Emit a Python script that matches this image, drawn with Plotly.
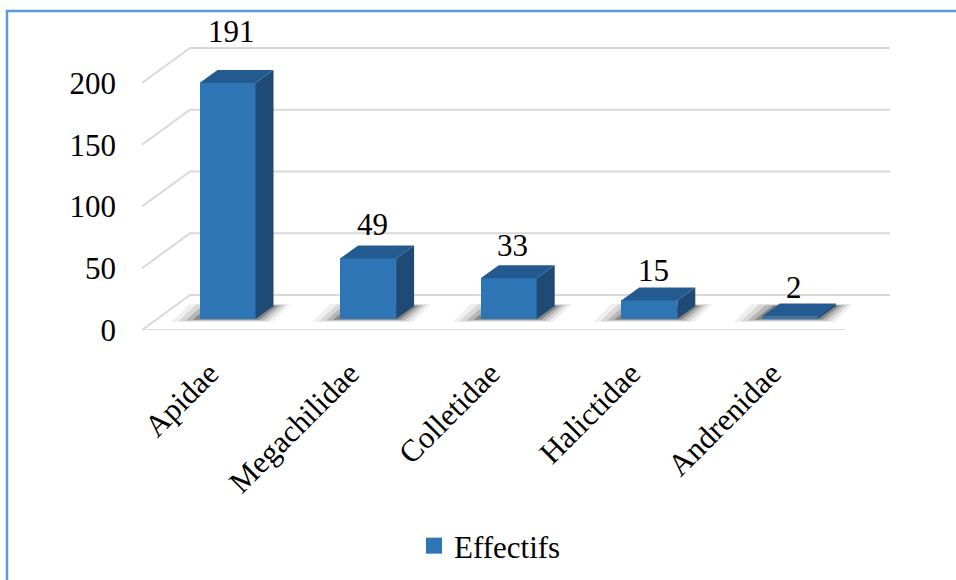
import plotly.graph_objects as go

# ---------------- data ----------------
categories = ["Apidae", "Megachilidae", "Colletidae", "Halictidae", "Andrenidae"]
values = [191, 49, 33, 15, 2]
y_ticks = [0, 50, 100, 150, 200]
series_name = "Effectifs"

# ---------------- styling / geometry ----------------
W, H = 956, 580
FONT = "Liberation Serif"
FONT_SIZE = 31
FRONT = "#2E75B6"
TOP = "#235B90"
SIDE = "#1F4A75"
GRID = "#D9D9D9"
BORDER = "#5B9BD5"

L, R, T, B = 142, 66, 40, 250
plot_w = W - L - R
plot_h = H - T - B
px_cat = 140.6          # pixels per category
px_unit = 1.235         # pixels per value unit
first_center_px = 227.5
zero_px = 319           # pixel row of bar front baseline

x0 = -(first_center_px - L) / px_cat
x1 = x0 + plot_w / px_cat
y0 = -((H - B) - zero_px) / px_unit
y1 = y0 + plot_h / px_unit

bar_w = 56 / px_cat
bar_dx = 18 / px_cat
bar_dy = 13 / px_unit
wall_dx = 48 / px_cat
wall_dy = 35 / px_unit
floor_right = x0 + (845 - L) / px_cat


def px2paper_x(px):
    return (px - L) / plot_w


def py2paper_y(py):
    return ((H - B) - py) / plot_h


xs = list(range(len(categories)))

fig = go.Figure()

# front faces
fig.add_trace(go.Bar(
    x=xs, y=values, width=bar_w, name=series_name,
    marker=dict(color=FRONT, line=dict(width=0)),
    showlegend=False,
))

# top faces and side faces
top_x, top_y, side_x, side_y = [], [], [], []
for i, v in zip(xs, values):
    l_, r_ = i - bar_w / 2, i + bar_w / 2
    top_x += [l_, r_, r_ + bar_dx, l_ + bar_dx, l_, None]
    top_y += [v, v, v + bar_dy, v + bar_dy, v, None]
    side_x += [r_, r_, r_ + bar_dx, r_ + bar_dx, r_, None]
    side_y += [0, v, v + bar_dy, bar_dy, 0, None]

fig.add_trace(go.Scatter(x=side_x, y=side_y, mode="lines", fill="toself",
                         fillcolor=SIDE, line=dict(width=0, color=SIDE),
                         showlegend=False, hoverinfo="skip"))
fig.add_trace(go.Scatter(x=top_x, y=top_y, mode="lines", fill="toself",
                         fillcolor=TOP, line=dict(width=0, color=TOP),
                         showlegend=False, hoverinfo="skip"))

# legend entry (square swatch like the reference)
fig.add_trace(go.Scatter(x=[None], y=[None], mode="markers", name=series_name,
                         marker=dict(symbol="square", size=16, color=FRONT),
                         showlegend=True, hoverinfo="skip"))

shapes = []
# back wall gridlines with left diagonal
for v in y_ticks:
    path = (f"M {x0},{y0 + v} L {x0 + wall_dx},{y0 + wall_dy + v} "
            f"L {x1},{y0 + wall_dy + v}")
    shapes.append(dict(type="path", path=path, xref="x", yref="y",
                       line=dict(color=GRID, width=2), layer="below"))
# floor front edge
shapes.append(dict(type="line", x0=x0, y0=y0, x1=floor_right, y1=y0,
                   xref="x", yref="y", line=dict(color=GRID, width=2),
                   layer="below"))

# soft shadows under bars
for i in xs:
    for e, op in [(0.2, 0.07), (0.15, 0.11), (0.1, 0.18), (0.05, 0.3)]:
        ey = e * px_cat / px_unit * 0.35
        l_ = i - bar_w / 2 - e
        r_ = i + bar_w / 2 + e * 0.6
        path = (f"M {l_},{-ey * 0.3} L {r_},{-ey * 0.3} "
                f"L {r_ + bar_dx},{bar_dy + ey * 0.2} L {l_ + bar_dx},{bar_dy + ey * 0.2} Z")
        shapes.append(dict(type="path", path=path, xref="x", yref="y",
                           fillcolor=f"rgba(30,30,30,{op})",
                           line=dict(width=0), layer="below"))

# outer border
shapes.append(dict(type="rect", xref="paper", yref="paper",
                   x0=px2paper_x(7), x1=px2paper_x(W + 10),
                   y0=py2paper_y(H + 10), y1=py2paper_y(11),
                   line=dict(color=BORDER, width=2.5)))

annotations = []
for i, v in zip(xs, values):
    gap = 4 + 0.12 * v
    annotations.append(dict(
        x=i + 0.03, y=v + bar_dy, xref="x", yref="y", text=str(v),
        showarrow=False, yanchor="bottom", yshift=gap - 8,
        font=dict(family=FONT, size=FONT_SIZE, color="black")))

fig.update_layout(
    width=W, height=H,
    margin=dict(l=L, r=R, t=T, b=B, autoexpand=False),
    paper_bgcolor="white", plot_bgcolor="white",
    font=dict(family=FONT, size=FONT_SIZE, color="black"),
    shapes=shapes, annotations=annotations,
    showlegend=True,
    legend=dict(orientation="h", x=px2paper_x(490), xanchor="center",
                y=py2paper_y(546), yanchor="middle",
                font=dict(family=FONT, size=FONT_SIZE, color="black"),
                bgcolor="rgba(0,0,0,0)", itemwidth=30),
    xaxis=dict(range=[x0, x1], tickvals=xs, ticktext=categories,
               tickangle=-45, showgrid=False, zeroline=False,
               showline=False, ticks="", fixedrange=True,
               tickfont=dict(family=FONT, size=FONT_SIZE),
               ticklabelstandoff=18, ticklabelshift=-18),
    yaxis=dict(range=[y0, y1], tickvals=[v + y0 for v in y_ticks],
               ticktext=[str(v) for v in y_ticks], showgrid=False,
               zeroline=False, showline=False, ticks="", fixedrange=True,
               tickfont=dict(family=FONT, size=FONT_SIZE),
               ticklabelstandoff=25),
    bargap=0,
)

fig.write_html("out.html")
